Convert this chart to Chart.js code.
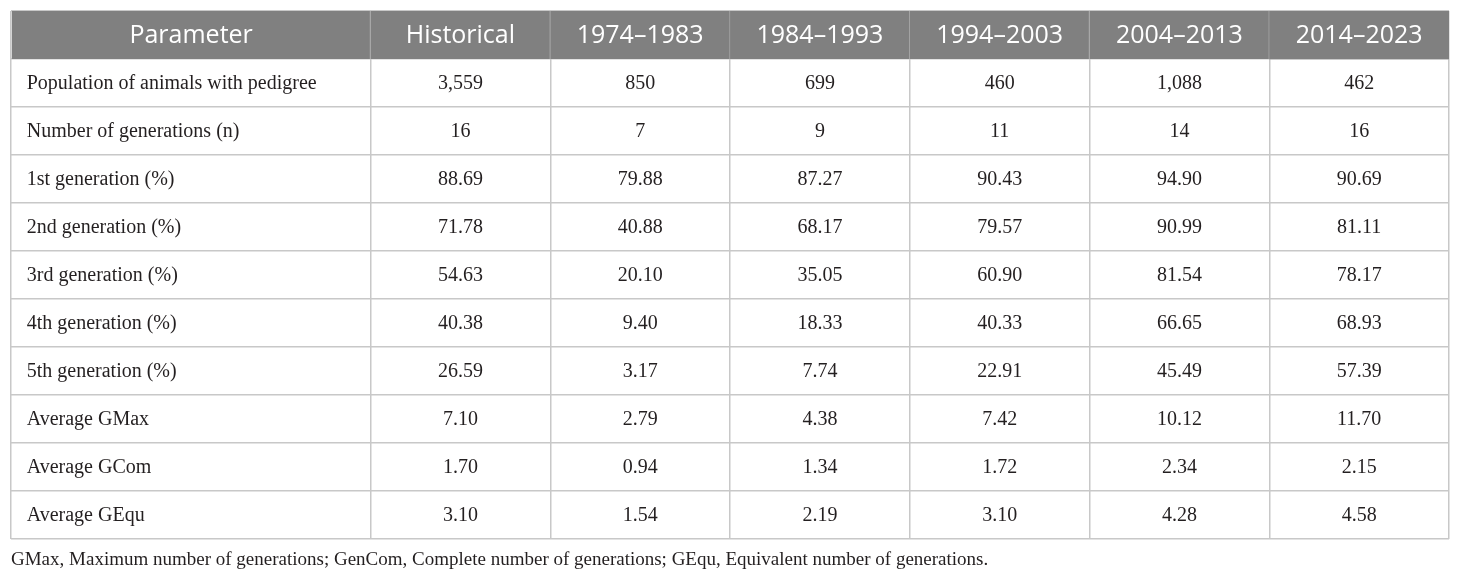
<!DOCTYPE html>
<html>
<head>
<meta charset="utf-8">
<script src="https://cdn.jsdelivr.net/npm/chart.js@4.4.1/dist/chart.umd.min.js"></script>
<style>
html, body { margin: 0; padding: 0; background: #fff; }
#wrap { width: 1460px; height: 579px; position: relative; }
</style>
</head>
<body>
<div id="wrap"><canvas id="drawChart"></canvas></div>
<script>
// table content
var headers = ['Parameter', 'Historical', '1974–1983', '1984–1993', '1994–2003', '2004–2013', '2014–2023'];
var parameters = ['Population of animals with pedigree', 'Number of generations (n)', '1st generation (%)',
	'2nd generation (%)', '3rd generation (%)', '4th generation (%)', '5th generation (%)',
	'Average GMax', 'Average GCom', 'Average GEqu'];
var historical = [3559, 16, 88.69, 71.78, 54.63, 40.38, 26.59, 7.10, 1.70, 3.10];
var p1974 = [850, 7, 79.88, 40.88, 20.10, 9.40, 3.17, 2.79, 0.94, 1.54];
var p1984 = [699, 9, 87.27, 68.17, 35.05, 18.33, 7.74, 4.38, 1.34, 2.19];
var p1994 = [460, 11, 90.43, 79.57, 60.90, 40.33, 22.91, 7.42, 1.72, 3.10];
var p2004 = [1088, 14, 94.90, 90.99, 81.54, 66.65, 45.49, 10.12, 2.34, 4.28];
var p2014 = [462, 16, 90.69, 81.11, 78.17, 68.93, 57.39, 11.70, 2.15, 4.58];
var decimals = [0, 0, 2, 2, 2, 2, 2, 2, 2, 2];
var footnote = 'GMax, Maximum number of generations; GenCom, Complete number of generations; GEqu, Equivalent number of generations.';

var columns = [parameters, historical, p1974, p1984, p1994, p2004, p2014];
var colSpan = [2, 1, 1, 1, 1, 1, 1];
var rowKeys = [headers[0]].concat(parameters);

function fmt(v, r) {
	if (typeof v === 'string') return v;
	return v.toLocaleString('en-US', { minimumFractionDigits: decimals[r], maximumFractionDigits: decimals[r] });
}

var edges = [0];
colSpan.forEach(function (s, i) { edges.push(edges[i] + s); });

var datasets = columns.map(function (col, c) {
	var data = [{ y: rowKeys[0], x: [edges[c], edges[c + 1]], text: headers[c] }];
	col.forEach(function (v, r) {
		data.push({ y: rowKeys[r + 1], x: [edges[c], edges[c + 1]], text: fmt(v, r) });
	});
	return {
		label: headers[c],
		data: data,
		grouped: false,
		barPercentage: 1,
		categoryPercentage: 1,
		borderSkipped: false,
		backgroundColor: function (ctx) { return ctx.dataIndex === 0 ? '#808080' : 'rgba(0,0,0,0)'; },
		borderColor: '#a6a6a6',
		borderWidth: function (ctx) {
			return (ctx.dataIndex === 0 && c < columns.length - 1) ? { top: 0, bottom: 0, left: 0, right: 1 } : 0;
		}
	};
});

var cellText = {
	id: 'cellText',
	afterDatasetsDraw: function (chart) {
		var ctx = chart.ctx;
		ctx.save();
		ctx.textBaseline = 'middle';
		chart.data.datasets.forEach(function (ds, c) {
			var meta = chart.getDatasetMeta(c);
			meta.data.forEach(function (el, i) {
				var left = Math.min(el.x, el.base), right = Math.max(el.x, el.base);
				var t = ds.data[i].text;
				if (i === 0) {
					ctx.font = '400 25px "Open Sans"';
					ctx.fillStyle = '#ffffff';
					ctx.textAlign = 'center';
					ctx.fillText(t, (left + right) / 2, el.y + 1);
				} else {
					ctx.font = '20px "Liberation Serif"';
					ctx.fillStyle = '#231f20';
					if (c === 0) {
						ctx.textAlign = 'left';
						ctx.fillText(t, left + 15, el.y + 1);
					} else {
						ctx.textAlign = 'center';
						ctx.fillText(t, (left + right) / 2, el.y + 1);
					}
				}
			});
		});
		ctx.restore();
	}
};

new Chart(document.getElementById('drawChart').getContext('2d'), {
	type: 'bar',
	data: { labels: rowKeys, datasets: datasets },
	plugins: [cellText],
	options: {
		indexAxis: 'y',
		responsive: true,
		maintainAspectRatio: false,
		animation: false,
		layout: { padding: { left: 11, right: 11, top: 11, bottom: 0 } },
		plugins: {
			legend: { display: false },
			tooltip: { enabled: false },
			title: {
				display: true,
				position: 'bottom',
				align: 'start',
				text: footnote,
				color: '#231f20',
				font: { family: 'Liberation Serif', size: 19, weight: 'normal' },
				padding: { top: 9, bottom: 8 }
			}
		},
		scales: {
			x: {
				type: 'linear',
				min: 0,
				max: edges[edges.length - 1],
				afterBuildTicks: function (axis) {
					axis.ticks = edges.map(function (v) { return { value: v }; });
				},
				ticks: { display: false },
				grid: { color: '#c8c8c8', lineWidth: 1.5, drawTicks: false },
				border: { display: false }
			},
			y: {
				type: 'category',
				labels: rowKeys,
				offset: true,
				ticks: { display: false },
				grid: { offset: true, color: '#c8c8c8', lineWidth: 1.5, drawTicks: false },
				border: { display: false }
			}
		}
	}
});
</script>
</body>
</html>
